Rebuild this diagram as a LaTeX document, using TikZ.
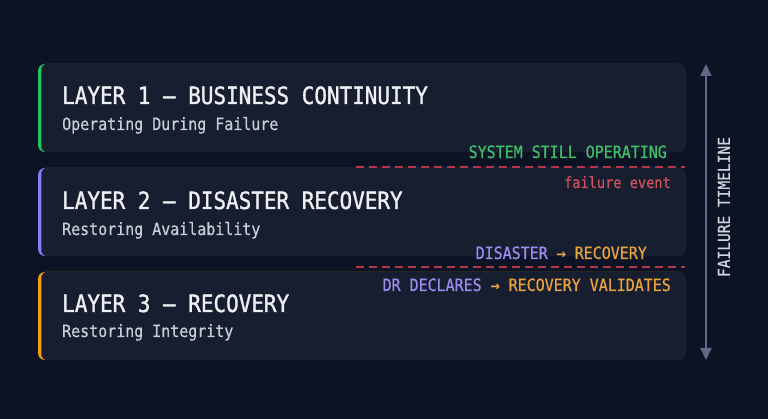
\documentclass[tikz,border=0pt]{standalone}
\usepackage{fontspec}
\newfontfamily\mono[FakeStretch=0.88,FakeBold=0.6]{DejaVu Sans Mono}
\newfontfamily\monob[FakeStretch=0.88,FakeBold=1.3]{DejaVu Sans Mono}
\usetikzlibrary{arrows.meta}
\definecolor{bg}{HTML}{0C1324}
\definecolor{boxcol}{HTML}{161E30}
\definecolor{gbar}{HTML}{22C55E}
\definecolor{pbar}{HTML}{8B7CF6}
\definecolor{obar}{HTML}{F59E0B}
\definecolor{gtxt}{HTML}{3FBF6A}
\definecolor{ptxt}{HTML}{9D8CF0}
\definecolor{otxt}{HTML}{E8A33C}
\definecolor{rline}{HTML}{B3364A}
\definecolor{rtxt}{HTML}{D0505F}
\definecolor{wtxt}{HTML}{EEF0F4}
\definecolor{stxt}{HTML}{C8CDD6}
\definecolor{tlcol}{HTML}{5D6B85}
\definecolor{tltxt}{HTML}{D0D5DE}
\tikzset{
  layerbox/.style={fill=#1, rounded corners=7pt, minimum width=647pt, minimum height=88pt, inner sep=0pt},
  inner/.style={fill=boxcol, rounded corners=6pt},
  ttl/.style={anchor=base west, inner sep=0pt, text=wtxt, font=\monob\fontsize{23.8}{28}\selectfont},
  sub/.style={anchor=base west, inner sep=0pt, text=stxt, font=\mono\fontsize{17}{20}\selectfont},
  lbl/.style={anchor=base east, inner sep=0pt, font=\mono\fontsize{17}{20}\selectfont},
  sep/.style={draw=rline, line width=1.8pt, dash pattern=on 8pt off 5pt},
  tl/.style={draw=tlcol, line width=2pt, {Triangle[width=11pt,length=12pt]}-{Triangle[width=11pt,length=12pt]}}
}
\begin{document}
\begin{tikzpicture}[x=1pt,y=-1pt]
\fill[bg] (0,0) rectangle (768,419);
\useasboundingbox (0,0) rectangle (768,419);

\node[layerbox=gbar] (b1) at (361.5,108) {};
\fill[inner] ([xshift=3.5pt]b1.north west) rectangle (b1.south east);
\node[layerbox=pbar] (b2) at (361.5,212) {};
\fill[inner] ([xshift=3.5pt]b2.north west) rectangle (b2.south east);
\node[layerbox=obar] (b3) at (361.5,316) {};
\fill[inner] ([xshift=3.5pt]b3.north west) rectangle (b3.south east);

\node[ttl] (t1) at (62,104) {LAYER 1 — BUSINESS CONTINUITY};
\node[sub] (s1) at (62,130) {Operating During Failure};
\node[ttl] (t2) at (62,209) {LAYER 2 — DISASTER RECOVERY};
\node[sub] (s2) at (62,235) {Restoring Availability};
\node[ttl] (t3) at (62,312) {LAYER 3 — RECOVERY};
\node[sub] (s3) at (62,337) {Restoring Integrity};

\node[lbl, text=gtxt] (l1) at (667,158) {SYSTEM STILL OPERATING};
\coordinate (d1a) at (356,167);
\coordinate (d1b) at (685,167);
\draw[sep] (d1a) -- (d1b);
\node[lbl, text=rtxt, font=\mono\fontsize{15.5}{18}\selectfont] (l2) at (671,188) {failure event};
\node[lbl] (l3) at (647,259) {\textcolor{ptxt}{DISASTER} \textcolor{otxt}{→ RECOVERY}};
\coordinate (d2a) at (356,267);
\coordinate (d2b) at (685,267);
\draw[sep] (d2a) -- (d2b);
\node[lbl] (l4) at (671,291) {\textcolor{ptxt}{DR DECLARES} \textcolor{otxt}{→ RECOVERY VALIDATES}};

\coordinate (ta) at (706,64);
\coordinate (tb) at (706,360);
\draw[tl] (ta) -- (tb);
\node[rotate=90, text=tltxt, inner sep=0pt, font=\mono\fontsize{16.5}{20}\selectfont] (tt) at (724,207) {FAILURE TIMELINE};
\end{tikzpicture}
\end{document}
